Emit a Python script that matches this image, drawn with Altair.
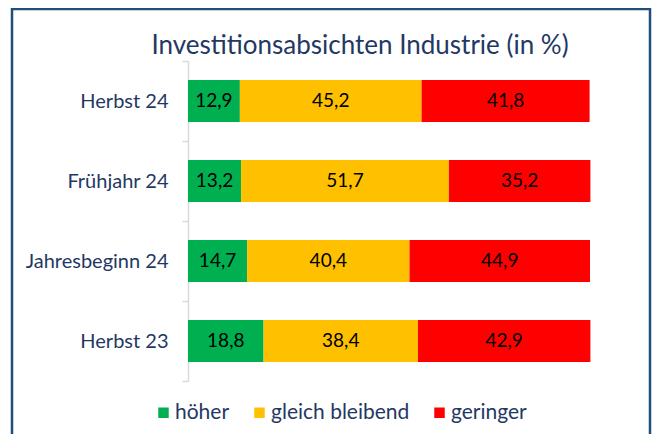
import altair as alt
import pandas as pd

title_text = "Investitionsabsichten Industrie (in %)"
categories = ["Herbst 24", "Frühjahr 24", "Jahresbeginn 24", "Herbst 23"]
series = ["höher", "gleich bleibend", "geringer"]
hoeher = [12.9, 13.2, 14.7, 18.8]
gleich = [45.2, 51.7, 40.4, 38.4]
geringer = [41.8, 35.2, 44.9, 42.9]
colors = ["#00B050", "#FFC000", "#FF0000"]

rows = []
for i, c in enumerate(categories):
    for j, (s, vals) in enumerate(zip(series, [hoeher, gleich, geringer])):
        v = vals[i]
        rows.append({"cat": c, "series": s, "order": j, "value": v,
                     "label": f"{v:.1f}".replace(".", ",")})
df = pd.DataFrame(rows)

FONT = "Lato"
BLUE = "#1F3864"

base = alt.Chart(df).transform_stack(
    stack="value", groupby=["cat"], as_=["x0", "x1"],
    sort=[alt.SortField("order", order="ascending")]
).transform_calculate(mid="(datum.x0 + datum.x1) / 2")

ysc = alt.Y("cat:N", sort=categories, title=None,
            scale=alt.Scale(paddingInner=0, paddingOuter=0),
            axis=alt.Axis(domainColor="#D9D9D9", domainWidth=1.5, tickColor="#D9D9D9",
                          tickWidth=1.5, tickSize=6, tickBand="extent", labelPadding=14,
                          labelFontSize=20, labelColor=BLUE, labelFont=FONT))

bars = base.mark_bar(size=42).encode(
    x=alt.X("x0:Q", axis=None, scale=alt.Scale(domain=[0, 100], nice=False)),
    x2="x1:Q",
    y=ysc,
    color=alt.Color("series:N", scale=alt.Scale(domain=series, range=colors),
                    legend=alt.Legend(title=None, orient="none", direction="horizontal",
                                      legendX=-35, legendY=341, symbolType="square",
                                      symbolSize=110, symbolStrokeWidth=0,
                                      labelFontSize=21, labelColor=BLUE, labelFont=FONT,
                                      columnPadding=19, symbolOffset=0, labelOffset=1)),
    order=alt.Order("order:Q"),
)

text = base.mark_text(fontSize=19, font=FONT, color="black").encode(
    x=alt.X("mid:Q", scale=alt.Scale(domain=[0, 100], nice=False)),
    y=alt.Y("cat:N", sort=categories),
    text="label:N",
)

title = alt.Chart(alt.Data(values=[{"t": title_text}])).mark_text(
    fontSize=26, font=FONT, color=BLUE, align="center", baseline="alphabetic"
).encode(x=alt.value(172), y=alt.value(-7), text="t:N")

border = alt.Chart(alt.Data(values=[{"a": 1}])).mark_rect(
    filled=False, stroke="#1F4E79", strokeWidth=2.5
).encode(
    x=alt.value(-176), x2=alt.value(462), y=alt.value(-52), y2=alt.value(400)
)

chart = alt.layer(border, title, bars, text).properties(
    width=402, height=320,
    autosize=alt.AutoSizeParams(type="none"),
    padding={"left": 180, "top": 53, "right": 66, "bottom": 53},
).configure_view(stroke=None)

chart.save("out.html", embed_options={"renderer": "svg", "actions": False})
